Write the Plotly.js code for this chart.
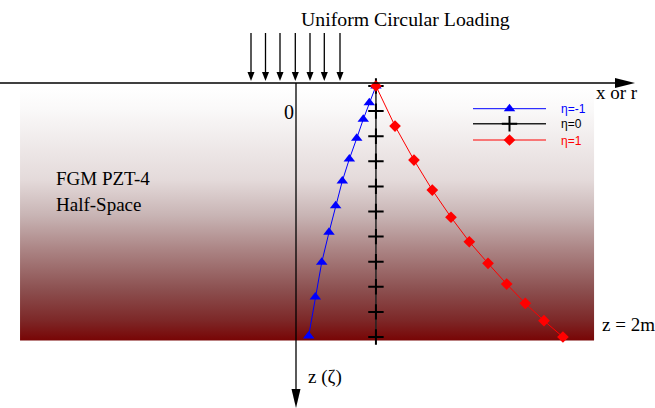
<!DOCTYPE html>
<html>
<head>
<meta charset="utf-8">
<script src="https://cdn.plot.ly/plotly-3.0.1.min.js"></script>
<style>html,body{margin:0;padding:0;background:#fff;}#chart{width:655px;height:408px;}</style>
</head>
<body>
<div id="chart"></div>
<script>
// ---- data (r and depth z in metres) ----
const seriesNames = ["η=-1", "η=0", "η=1"];
const rEtaMinus1 = [0.637, 0.584, 0.536, 0.484, 0.425, 0.369, 0.316, 0.263, 0.205, 0.154, 0.101];
const zEtaMinus1 = [0.000, 0.133, 0.265, 0.417, 0.582, 0.757, 0.954, 1.166, 1.405, 1.681, 1.992];
const rEta0 = [0.637, 0.637, 0.637, 0.637, 0.637, 0.637, 0.637, 0.637, 0.637, 0.637, 0.637];
const zEta0 = [0.0, 0.2, 0.4, 0.6, 0.8, 1.0, 1.2, 1.4, 1.6, 1.8, 2.0];
const rEta1 = [0.637, 0.789, 0.940, 1.086, 1.235, 1.381, 1.530, 1.679, 1.827, 1.976, 2.127];
const zEta1 = [0.000, 0.319, 0.590, 0.829, 1.046, 1.241, 1.413, 1.578, 1.732, 1.870, 2.000];

// half-space block extents (metres)
const halfSpaceLeft = -2.199, halfSpaceRight = 2.375, halfSpaceTop = -0.004, halfSpaceBottom = 2.028;

// ---- layout helpers (pixel -> paper) ----
const W = 655, H = 408;
const X = p => p / W;
const Y = p => 1 - p / H;
const serif = "Liberation Serif, Times New Roman, serif";
const pad = "\u00a0\u00a0\u00a0";

const traces = [
  {x: [halfSpaceLeft, halfSpaceRight, halfSpaceRight, halfSpaceLeft, halfSpaceLeft],
   y: [halfSpaceTop, halfSpaceTop, halfSpaceBottom, halfSpaceBottom, halfSpaceTop],
   mode: "lines", line: {width: 0}, fill: "toself", showlegend: false, hoverinfo: "skip",
   fillgradient: {type: "vertical", start: halfSpaceTop, stop: halfSpaceBottom,
     colorscale: [[0, "#ffffff"], [0.09, "#faf9f9"], [0.37, "#e4dada"], [0.51, "#c8b4b4"],
                  [0.65, "#aa8282"], [0.80, "#8c5050"], [0.92, "#7d2828"], [1, "#780505"]]}},
  {x: rEtaMinus1, y: zEtaMinus1, name: pad + '<span style="color:#0000ff">' + seriesNames[0] + '</span>', legend: "legend",
   mode: "lines+markers", line: {color: "#0000ff", width: 1}, marker: {symbol: "triangle-up", size: 10, color: "#0000ff"}},
  {x: rEta0, y: zEta0, name: pad + '<span style="color:#000000">' + seriesNames[1] + '</span>', legend: "legend2",
   mode: "lines+markers", line: {color: "#222222", width: 1.5},
   marker: {symbol: "cross-thin", size: 11, color: "#000", line: {color: "#000", width: 2}}},
  {x: rEta1, y: zEta1, name: pad + '<span style="color:#ff0000">' + seriesNames[2] + '</span>', legend: "legend3",
   mode: "lines+markers", line: {color: "#ff0000", width: 1}, marker: {symbol: "diamond", size: 9, color: "#ff0000"}}
];

const shapes = [];
const blk = {color: "#000", width: 1.3};
// horizontal axis with arrow
shapes.push({type: "line", xref: "paper", yref: "paper", x0: X(0), y0: Y(83), x1: X(616), y1: Y(83), line: blk});
shapes.push({type: "path", xref: "paper", yref: "paper",
  path: `M${X(615)},${Y(78)} L${X(635)},${Y(83)} L${X(615)},${Y(88)} Z`, fillcolor: "#000", line: {width: 0}});
// vertical axis with arrow
shapes.push({type: "line", xref: "paper", yref: "paper", x0: X(296), y0: Y(83), x1: X(296), y1: Y(392), line: blk});
shapes.push({type: "path", xref: "paper", yref: "paper",
  path: `M${X(291.5)},${Y(389)} L${X(296)},${Y(408)} L${X(300.5)},${Y(389)} Z`, fillcolor: "#000", line: {width: 0}});
// loading arrows
[251, 265.5, 280, 295.3, 310, 324.3, 340].forEach(px => {
  shapes.push({type: "line", xref: "paper", yref: "paper", x0: X(px), y0: Y(33), x1: X(px), y1: Y(74), line: blk});
  shapes.push({type: "path", xref: "paper", yref: "paper",
    path: `M${X(px - 3.5)},${Y(72)} L${X(px)},${Y(81)} L${X(px + 3.5)},${Y(72)} Z`, fillcolor: "#000", line: {width: 0}});
});

const ann = (text, px, py, xanchor, size) => ({
  text, xref: "paper", yref: "paper", x: X(px), y: Y(py), xanchor, yanchor: "middle",
  showarrow: false, font: {family: serif, size: size || 19, color: "#000"}
});
const annotations = [
  ann("Uniform Circular Loading", 405, 19, "center", 19.8),
  ann("0", 296, 112, "right", 20),
  ann("x or r", 594, 93, "left"),
  ann("FGM PZT-4", 54, 178, "left"),
  ann("Half-Space", 54, 204, "left"),
  ann("z = 2m", 600, 324, "left"),
  ann("z (ζ)", 306, 377, "left")
];

const legBase = {x: X(468), xanchor: "left", yanchor: "middle", bgcolor: "rgba(0,0,0,0)",
  borderwidth: 0, itemwidth: 73, font: {family: "Liberation Sans, Arial, sans-serif", size: 12}};
const layout = {
  width: W, height: H, margin: {l: 0, r: 0, t: 0, b: 0},
  paper_bgcolor: "#fff", plot_bgcolor: "rgba(0,0,0,0)",
  xaxis: {range: [-296 / 125.5, 359 / 125.5], visible: false, fixedrange: true},
  yaxis: {range: [(408 - 86) / 125.5, -86 / 125.5], visible: false, fixedrange: true},
  showlegend: true,
  legend: Object.assign({}, legBase, {y: Y(108.7)}),
  legend2: Object.assign({}, legBase, {y: Y(123.7)}),
  legend3: Object.assign({}, legBase, {y: Y(140)}),
  shapes, annotations
};

Plotly.newPlot("chart", traces, layout, {staticPlot: true, displayModeBar: false});
</script>
</body>
</html>
